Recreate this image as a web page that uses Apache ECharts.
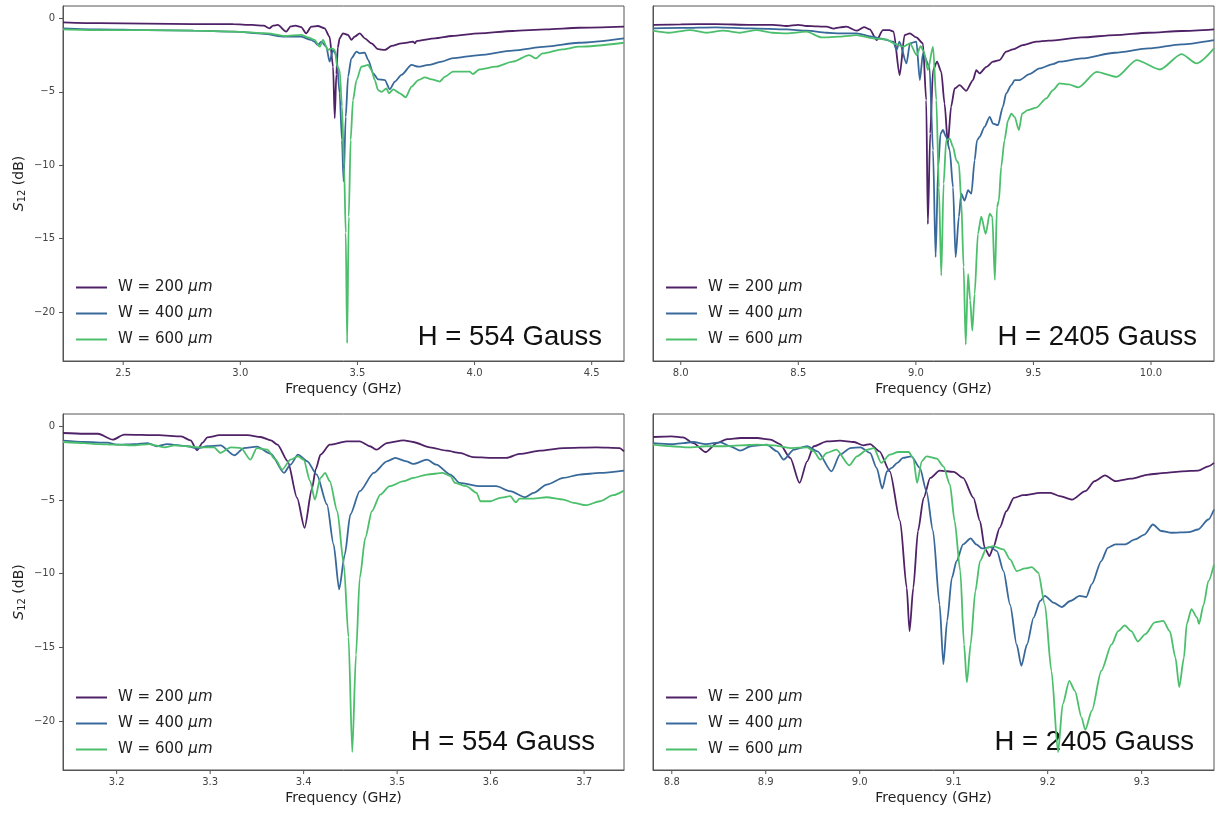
<!DOCTYPE html>
<html><head><meta charset="utf-8">
<script src="https://cdn.jsdelivr.net/npm/echarts@6/dist/echarts.min.js"></script>
<style>html,body{margin:0;padding:0;background:#fff}#c{width:1215px;height:813px}</style>
</head><body><div id="c"></div>
<script>
// ---------- DATA ([frequency GHz, S12 dB]) ----------
const seriesNames = ['W = 200 μm', 'W = 400 μm', 'W = 600 μm'];
const annotations = ['H = 554 Gauss', 'H = 2405 Gauss', 'H = 554 Gauss', 'H = 2405 Gauss'];
const xTicksTL = [2.5, 3.0, 3.5, 4.0, 4.5];
const xTicksTR = [8.0, 8.5, 9.0, 9.5, 10.0];
const xTicksBL = [3.2, 3.3, 3.4, 3.5, 3.6, 3.7];
const xTicksBR = [8.8, 8.9, 9.0, 9.1, 9.2, 9.3];
const yTicks = [0, -5, -10, -15, -20];
const xRangeTL = [2.243, 4.638];
const xRangeTR = [7.882, 10.268];
const xRangeBL = [3.1426, 3.7427];
const xRangeBR = [8.78, 9.377];
const yRange = [-23.32, 0.84];

const tl200 = [[2.243,-0.27],[2.4,-0.33],[2.6,-0.36],[2.8,-0.39],[2.97,-0.4],[3.05,-0.45],[3.1,-0.5],[3.124,-0.68],[3.14,-0.5],[3.16,-0.45],[3.196,-0.9],[3.215,-0.55],[3.235,-0.5],[3.26,-0.6],[3.281,-1.02],[3.303,-0.57],[3.331,-0.52],[3.36,-0.68],[3.381,-1.25],[3.396,-3.3],[3.403,-6.8],[3.41,-3.8],[3.416,-2.0],[3.424,-1.36],[3.438,-1.02],[3.46,-1.13],[3.474,-1.47],[3.488,-1.25],[3.51,-1.02],[3.531,-1.36],[3.56,-1.7],[3.588,-2.1],[3.617,-2.15],[3.646,-1.88],[3.688,-1.7],[3.738,-1.59],[3.745,-1.7],[3.752,-1.55],[3.831,-1.36],[3.903,-1.2],[4.02,-1.02],[4.163,-0.86],[4.305,-0.75],[4.446,-0.64],[4.638,-0.57]];
const tl400 = [[2.243,-0.68],[2.4,-0.75],[2.6,-0.8],[2.8,-0.84],[2.97,-0.9],[3.1,-1.05],[3.19,-1.25],[3.26,-1.25],[3.303,-1.47],[3.317,-1.6],[3.331,-1.81],[3.346,-1.59],[3.367,-1.93],[3.381,-2.95],[3.396,-2.15],[3.41,-2.5],[3.424,-5.1],[3.434,-8.28],[3.441,-11.1],[3.45,-6.7],[3.46,-3.97],[3.474,-2.72],[3.496,-2.27],[3.51,-2.38],[3.531,-2.33],[3.546,-2.83],[3.567,-3.74],[3.588,-4.15],[3.617,-4.2],[3.638,-4.83],[3.66,-4.3],[3.688,-3.85],[3.731,-3.17],[3.76,-3.29],[3.803,-3.17],[3.86,-2.95],[3.903,-2.72],[4.02,-2.5],[4.163,-2.2],[4.305,-1.93],[4.446,-1.66],[4.638,-1.36]];
const tl600 = [[2.243,-0.75],[2.4,-0.8],[2.6,-0.8],[2.8,-0.84],[2.97,-0.9],[3.117,-1.02],[3.19,-1.2],[3.26,-1.13],[3.288,-1.29],[3.317,-1.47],[3.339,-1.93],[3.353,-1.47],[3.374,-2.15],[3.389,-2.04],[3.403,-2.15],[3.414,-3.29],[3.424,-3.52],[3.434,-6.0],[3.443,-10.1],[3.45,-14.6],[3.456,-22.1],[3.463,-13.5],[3.471,-8.28],[3.481,-5.56],[3.496,-4.2],[3.517,-3.29],[3.546,-3.17],[3.56,-3.52],[3.574,-4.2],[3.588,-4.88],[3.603,-5.0],[3.624,-4.76],[3.634,-5.1],[3.653,-4.83],[3.681,-5.1],[3.706,-5.37],[3.731,-4.65],[3.76,-4.2],[3.788,-4.02],[3.817,-4.15],[3.851,-4.3],[3.874,-3.97],[3.908,-3.63],[3.979,-3.63],[3.993,-3.79],[4.02,-3.48],[4.092,-3.29],[4.163,-2.95],[4.234,-2.5],[4.262,-2.73],[4.29,-2.39],[4.375,-2.11],[4.446,-1.93],[4.638,-1.66]];

const tr200 = [[7.882,-0.45],[8.0,-0.41],[8.15,-0.39],[8.3,-0.45],[8.393,-0.45],[8.45,-0.52],[8.5,-0.45],[8.535,-0.52],[8.58,-0.55],[8.62,-0.57],[8.65,-0.7],[8.677,-0.61],[8.705,-0.57],[8.748,-0.84],[8.78,-0.6],[8.804,-0.75],[8.833,-1.48],[8.86,-0.8],[8.888,-0.8],[8.905,-0.9],[8.931,-3.86],[8.952,-1.14],[8.974,-1.02],[9.002,-1.3],[9.03,-1.7],[9.044,-5.57],[9.051,-14.0],[9.061,-7.84],[9.073,-3.52],[9.09,-2.95],[9.108,-3.64],[9.122,-5.8],[9.136,-8.5],[9.15,-6.0],[9.165,-4.77],[9.186,-4.55],[9.214,-4.93],[9.243,-4.2],[9.257,-3.52],[9.271,-3.75],[9.3,-3.3],[9.328,-2.95],[9.356,-2.84],[9.384,-2.27],[9.413,-2.11],[9.455,-1.82],[9.512,-1.59],[9.564,-1.52],[9.705,-1.3],[9.847,-1.14],[9.989,-0.98],[10.13,-0.86],[10.268,-0.75]];
const tr400 = [[7.882,-0.68],[8.0,-0.65],[8.15,-0.61],[8.3,-0.68],[8.45,-0.75],[8.535,-0.84],[8.62,-0.98],[8.677,-1.02],[8.748,-1.02],[8.818,-1.25],[8.847,-1.36],[8.904,-1.59],[8.918,-2.16],[8.93,-1.59],[8.96,-3.07],[8.975,-1.7],[9.002,-1.59],[9.017,-4.2],[9.03,-2.39],[9.058,-3.3],[9.073,-8.98],[9.084,-16.25],[9.095,-10.1],[9.105,-7.84],[9.115,-7.6],[9.129,-8.07],[9.144,-8.98],[9.158,-11.5],[9.169,-16.25],[9.183,-13.5],[9.193,-11.93],[9.207,-12.4],[9.222,-11.7],[9.236,-11.93],[9.25,-9.66],[9.26,-8.3],[9.271,-8.07],[9.292,-7.39],[9.314,-6.7],[9.328,-7.16],[9.349,-7.27],[9.37,-6.02],[9.384,-5.11],[9.406,-4.55],[9.42,-4.2],[9.441,-4.2],[9.483,-3.8],[9.526,-3.41],[9.583,-3.11],[9.611,-2.95],[9.705,-2.73],[9.847,-2.34],[9.989,-2.05],[10.13,-1.77],[10.268,-1.48]];
const tr600 = [[7.882,-0.84],[7.95,-0.98],[8.04,-0.8],[8.11,-0.98],[8.18,-0.84],[8.25,-0.98],[8.322,-0.8],[8.39,-0.98],[8.45,-1.02],[8.535,-0.91],[8.6,-1.3],[8.677,-1.25],[8.748,-1.14],[8.818,-1.36],[8.875,-1.43],[8.905,-1.7],[8.946,-1.93],[8.975,-1.7],[9.003,-2.5],[9.02,-1.9],[9.035,-2.3],[9.051,-3.52],[9.073,-1.93],[9.087,-5.57],[9.098,-11.5],[9.108,-17.5],[9.118,-11.25],[9.129,-8.3],[9.144,-8.18],[9.158,-8.75],[9.172,-9.66],[9.183,-9.9],[9.193,-12.4],[9.203,-16.9],[9.212,-22.2],[9.222,-17.4],[9.231,-19.2],[9.24,-21.25],[9.25,-18.75],[9.264,-14.66],[9.278,-13.5],[9.297,-14.66],[9.314,-13.3],[9.325,-13.5],[9.336,-17.8],[9.345,-12.84],[9.353,-12.4],[9.363,-10.1],[9.377,-8.3],[9.392,-6.93],[9.406,-6.48],[9.42,-6.7],[9.438,-7.6],[9.452,-6.48],[9.476,-6.25],[9.512,-6.07],[9.555,-5.45],[9.583,-4.89],[9.611,-4.43],[9.65,-4.5],[9.691,-4.7],[9.769,-3.64],[9.854,-3.98],[9.939,-2.84],[10.038,-3.48],[10.13,-2.43],[10.194,-3.07],[10.268,-2.05]];

const bl200 = [[3.1426,-0.45],[3.165,-0.5],[3.18,-0.5],[3.196,-0.9],[3.208,-0.56],[3.245,-0.6],[3.269,-0.68],[3.279,-0.95],[3.286,-1.62],[3.292,-1.1],[3.297,-0.75],[3.31,-0.6],[3.34,-0.6],[3.354,-0.72],[3.365,-0.95],[3.372,-1.24],[3.383,-2.37],[3.393,-4.85],[3.401,-6.88],[3.409,-4.2],[3.413,-2.9],[3.418,-1.92],[3.428,-1.24],[3.446,-1.02],[3.46,-1.02],[3.471,-1.35],[3.478,-1.58],[3.489,-1.13],[3.507,-0.95],[3.517,-1.06],[3.535,-1.42],[3.553,-1.65],[3.567,-1.8],[3.581,-2.08],[3.6,-2.14],[3.617,-2.14],[3.631,-1.87],[3.653,-1.65],[3.678,-1.47],[3.713,-1.42],[3.738,-1.47],[3.7427,-1.69]];
const bl400 = [[3.1426,-0.97],[3.165,-1.06],[3.19,-1.1],[3.2,-1.24],[3.219,-1.2],[3.233,-1.13],[3.243,-1.35],[3.254,-1.2],[3.276,-1.35],[3.286,-1.5],[3.297,-1.35],[3.311,-1.29],[3.326,-1.96],[3.336,-1.47],[3.35,-1.38],[3.365,-1.87],[3.379,-3.16],[3.386,-2.6],[3.394,-1.92],[3.404,-2.37],[3.414,-3.27],[3.425,-5.3],[3.432,-8.0],[3.438,-11.06],[3.444,-8.7],[3.45,-5.98],[3.46,-4.4],[3.475,-3.16],[3.489,-2.37],[3.498,-2.14],[3.51,-2.37],[3.517,-2.55],[3.532,-2.26],[3.542,-2.6],[3.557,-3.27],[3.567,-3.84],[3.589,-4.06],[3.606,-4.06],[3.621,-4.4],[3.637,-4.81],[3.646,-4.51],[3.66,-3.95],[3.678,-3.5],[3.695,-3.27],[3.717,-3.16],[3.7427,-3.0]];
const bl600 = [[3.1426,-1.06],[3.165,-1.13],[3.18,-1.2],[3.2,-1.24],[3.219,-1.29],[3.235,-1.2],[3.251,-1.42],[3.262,-1.29],[3.276,-1.35],[3.29,-1.42],[3.304,-1.42],[3.311,-1.8],[3.322,-1.42],[3.333,-1.47],[3.343,-2.26],[3.35,-1.47],[3.361,-1.58],[3.37,-2.26],[3.377,-2.93],[3.386,-2.26],[3.394,-2.03],[3.4,-2.26],[3.407,-3.72],[3.412,-4.97],[3.418,-3.5],[3.423,-3.16],[3.428,-3.72],[3.436,-5.76],[3.443,-9.37],[3.448,-14.3],[3.452,-22.1],[3.456,-15.5],[3.46,-10.3],[3.466,-7.56],[3.473,-5.76],[3.482,-4.63],[3.492,-4.06],[3.507,-3.72],[3.517,-3.5],[3.532,-3.27],[3.549,-3.16],[3.557,-3.38],[3.562,-3.84],[3.574,-4.06],[3.585,-4.51],[3.589,-5.08],[3.6,-5.08],[3.61,-4.85],[3.621,-4.74],[3.627,-5.15],[3.631,-4.9],[3.646,-4.9],[3.66,-4.81],[3.678,-4.97],[3.689,-5.19],[3.702,-5.35],[3.717,-5.08],[3.731,-4.67],[3.7427,-4.36]];

const br200 = [[8.78,-0.72],[8.8,-0.68],[8.812,-0.75],[8.823,-1.13],[8.836,-1.74],[8.848,-1.13],[8.859,-0.86],[8.873,-0.79],[8.891,-0.79],[8.905,-0.9],[8.915,-1.2],[8.926,-2.14],[8.936,-3.84],[8.944,-2.37],[8.951,-1.35],[8.965,-1.02],[8.979,-0.97],[8.994,-1.06],[9.004,-1.29],[9.011,-1.2],[9.021,-1.69],[9.032,-3.05],[9.043,-6.43],[9.05,-10.95],[9.053,-13.9],[9.057,-10.95],[9.062,-7.1],[9.068,-4.85],[9.075,-3.5],[9.085,-3.0],[9.1,-3.09],[9.11,-3.5],[9.121,-4.85],[9.128,-6.43],[9.133,-8.24],[9.138,-8.8],[9.142,-8.24],[9.149,-6.88],[9.156,-5.76],[9.164,-4.85],[9.174,-4.67],[9.192,-4.51],[9.203,-4.51],[9.213,-4.74],[9.226,-4.97],[9.24,-4.4],[9.25,-3.72],[9.261,-3.32],[9.272,-3.72],[9.289,-3.55],[9.307,-3.27],[9.325,-3.16],[9.343,-3.05],[9.36,-3.0],[9.371,-2.71],[9.377,-2.48]];
const br400 = [[8.78,-1.13],[8.8,-1.2],[8.812,-1.13],[8.823,-1.06],[8.836,-1.2],[8.852,-1.08],[8.862,-1.35],[8.873,-1.65],[8.884,-1.35],[8.901,-1.24],[8.912,-1.69],[8.919,-2.26],[8.93,-1.58],[8.944,-1.35],[8.955,-1.69],[8.97,-3.05],[8.979,-1.92],[8.99,-1.47],[9.001,-1.42],[9.011,-1.8],[9.018,-2.82],[9.024,-4.22],[9.029,-3.05],[9.034,-2.82],[9.04,-2.48],[9.046,-2.14],[9.055,-2.03],[9.064,-2.82],[9.071,-4.4],[9.078,-7.1],[9.085,-12.1],[9.089,-16.14],[9.093,-13.2],[9.098,-10.3],[9.103,-9.14],[9.11,-8.01],[9.118,-7.6],[9.124,-8.01],[9.13,-8.28],[9.139,-8.2],[9.146,-8.46],[9.153,-9.82],[9.16,-12.1],[9.167,-14.8],[9.172,-16.25],[9.178,-14.8],[9.185,-12.98],[9.192,-11.85],[9.197,-11.5],[9.206,-11.96],[9.215,-12.26],[9.224,-11.85],[9.234,-11.5],[9.241,-11.58],[9.247,-10.7],[9.257,-9.14],[9.264,-8.24],[9.272,-8.01],[9.282,-8.01],[9.293,-7.67],[9.303,-7.34],[9.312,-6.66],[9.321,-7.1],[9.332,-7.22],[9.35,-7.18],[9.36,-7.0],[9.371,-6.32],[9.377,-5.64]];
const br600 = [[8.78,-1.24],[8.8,-1.35],[8.818,-1.42],[8.836,-1.35],[8.855,-1.35],[8.873,-1.29],[8.891,-1.24],[8.908,-1.29],[8.926,-1.47],[8.944,-1.42],[8.951,-1.69],[8.958,-2.26],[8.965,-1.8],[8.975,-1.58],[8.989,-2.64],[8.997,-2.03],[9.008,-1.58],[9.015,-1.47],[9.023,-2.48],[9.032,-1.92],[9.041,-1.74],[9.052,-1.74],[9.057,-2.14],[9.061,-3.84],[9.066,-2.37],[9.071,-2.03],[9.082,-2.19],[9.089,-2.71],[9.096,-3.95],[9.101,-6.43],[9.107,-9.82],[9.111,-14.8],[9.114,-17.38],[9.118,-14.8],[9.123,-11.2],[9.128,-9.14],[9.135,-8.24],[9.142,-8.13],[9.153,-8.35],[9.16,-9.03],[9.167,-9.82],[9.176,-9.64],[9.183,-9.55],[9.19,-9.93],[9.197,-12.1],[9.204,-16.6],[9.211,-22.1],[9.216,-18.85],[9.223,-17.27],[9.229,-17.95],[9.236,-19.75],[9.24,-20.6],[9.247,-19.3],[9.257,-16.6],[9.268,-14.8],[9.275,-13.9],[9.282,-13.5],[9.289,-13.9],[9.296,-14.6],[9.304,-14.1],[9.314,-13.3],[9.323,-13.2],[9.33,-13.9],[9.336,-15.7],[9.34,-17.7],[9.345,-15.7],[9.348,-13.4],[9.353,-12.4],[9.359,-12.98],[9.361,-13.4],[9.366,-12.1],[9.371,-10.5],[9.377,-9.37]];

// ---------- LAYOUT / STYLE ----------
const colors = ['#4f2166', '#38699a', '#4cbf6c'];
const FONT = 'DejaVu Sans';
const FRAME = '#555';
const TICK_LEN = 4;
const grids = [
  {left: 63, top: 6, width: 561, height: 355},
  {left: 653, top: 6, width: 561, height: 355},
  {left: 63, top: 414, width: 561, height: 356},
  {left: 653, top: 414, width: 561, height: 356}
];
const panelData = [[tl200, tl400, tl600], [tr200, tr400, tr600], [bl200, bl400, bl600], [br200, br400, br600]];
const xRanges = [xRangeTL, xRangeTR, xRangeBL, xRangeBR];
const xTicks = [xTicksTL, xTicksTR, xTicksBL, xTicksBR];
const legendPos = [{left: 75, top: 280}, {left: 665, top: 280}, {left: 75, top: 690}, {left: 665, top: 690}];
const annoPos = [[602, 337], [1197, 337], [595, 742], [1194, 742]];

const fmtY = v => (v < 0 ? '\u2212' + Math.abs(v) : String(v));

const option = {
  animation: false,
  backgroundColor: '#fff',
  grid: grids.map(g => Object.assign({show: true, borderColor: FRAME, borderWidth: 1, backgroundColor: 'transparent'}, g)),
  xAxis: grids.map((g, i) => ({
    type: 'value', gridIndex: i, min: xRanges[i][0], max: xRanges[i][1], position: 'bottom',
    name: 'Frequency (GHz)', nameLocation: 'middle', nameGap: 21,
    nameTextStyle: {fontFamily: FONT, fontSize: 14, color: '#222'},
    axisLine: {show: true, onZero: false, lineStyle: {color: FRAME, width: 1}}, splitLine: {show: false},
    axisTick: {show: false},
    axisLabel: {customValues: xTicks[i], formatter: v => v.toFixed(1), fontFamily: FONT, fontSize: 10, color: '#444', margin: 7}
  })),
  yAxis: grids.map((g, i) => ({
    type: 'value', gridIndex: i, min: yRange[0], max: yRange[1], position: 'left',
    name: (i % 2 === 0) ? '{it|S}{sub|12} (dB)' : '', nameLocation: 'middle', nameGap: 36, nameRotate: 90,
    nameTextStyle: {fontFamily: FONT, fontSize: 14, color: '#222',
      rich: {it: {fontFamily: FONT, fontSize: 14, fontStyle: 'italic', color: '#222'},
             sub: {fontFamily: FONT, fontSize: 10, color: '#222', padding: [5, 0, 0, 0]}}},
    axisLine: {show: true, onZero: false, lineStyle: {color: FRAME, width: 1}}, splitLine: {show: false},
    axisTick: {show: i % 2 === 0, inside: false, length: TICK_LEN, customValues: yTicks, lineStyle: {color: FRAME}},
    axisLabel: {show: i % 2 === 0, customValues: yTicks, formatter: fmtY, fontFamily: FONT, fontSize: 10, color: '#444', margin: 8}
  })),
  legend: legendPos.map(p => ({
    left: p.left, top: p.top, orient: 'vertical', padding: 0, itemGap: 11, itemWidth: 31, itemHeight: 14,
    data: seriesNames, selectedMode: false,
    itemStyle: {opacity: 0},
    lineStyle: {width: 2},
    textStyle: {fontFamily: FONT, fontSize: 15, color: '#222', padding: [0, 0, 0, 6],
      rich: {i: {fontFamily: FONT, fontSize: 15, fontStyle: 'italic', color: '#222'}}},
    formatter: name => name.replace('μm', '{i|μm}')
  })),
  series: [],
  graphic: annotations.map((t, i) => ({
    type: 'text', x: annoPos[i][0], y: annoPos[i][1], silent: true,
    style: {text: t, fontFamily: 'Liberation Sans', fontSize: 27.5, fill: '#111', textAlign: 'right', textVerticalAlign: 'middle'}
  }))
};
panelData.forEach((arrs, gi) => {
  arrs.forEach((d, si) => {
    option.series.push({
      type: 'line', name: seriesNames[si], xAxisIndex: gi, yAxisIndex: gi, data: d,
      symbol: 'none', smooth: 0.25, smoothMonotone: 'x', clip: true,
      lineStyle: {color: colors[si], width: 1.8}, itemStyle: {color: colors[si]}
    });
  });
  // x-axis tick marks, positioned through the axis scale
  option.series.push({
    type: 'custom', xAxisIndex: gi, yAxisIndex: gi, silent: true, clip: false, z: 1,
    data: xTicks[gi].map(v => [v, yRange[0]]),
    renderItem: (params, api) => {
      const p = api.coord([api.value(0), api.value(1)]);
      return {type: 'line', shape: {x1: p[0], y1: p[1], x2: p[0], y2: p[1] + TICK_LEN},
              style: {stroke: FRAME, lineWidth: 1}};
    }
  });
});
const chart = echarts.init(document.getElementById('c'), null, {renderer: 'canvas'});
chart.setOption(option);
</script></body></html>
